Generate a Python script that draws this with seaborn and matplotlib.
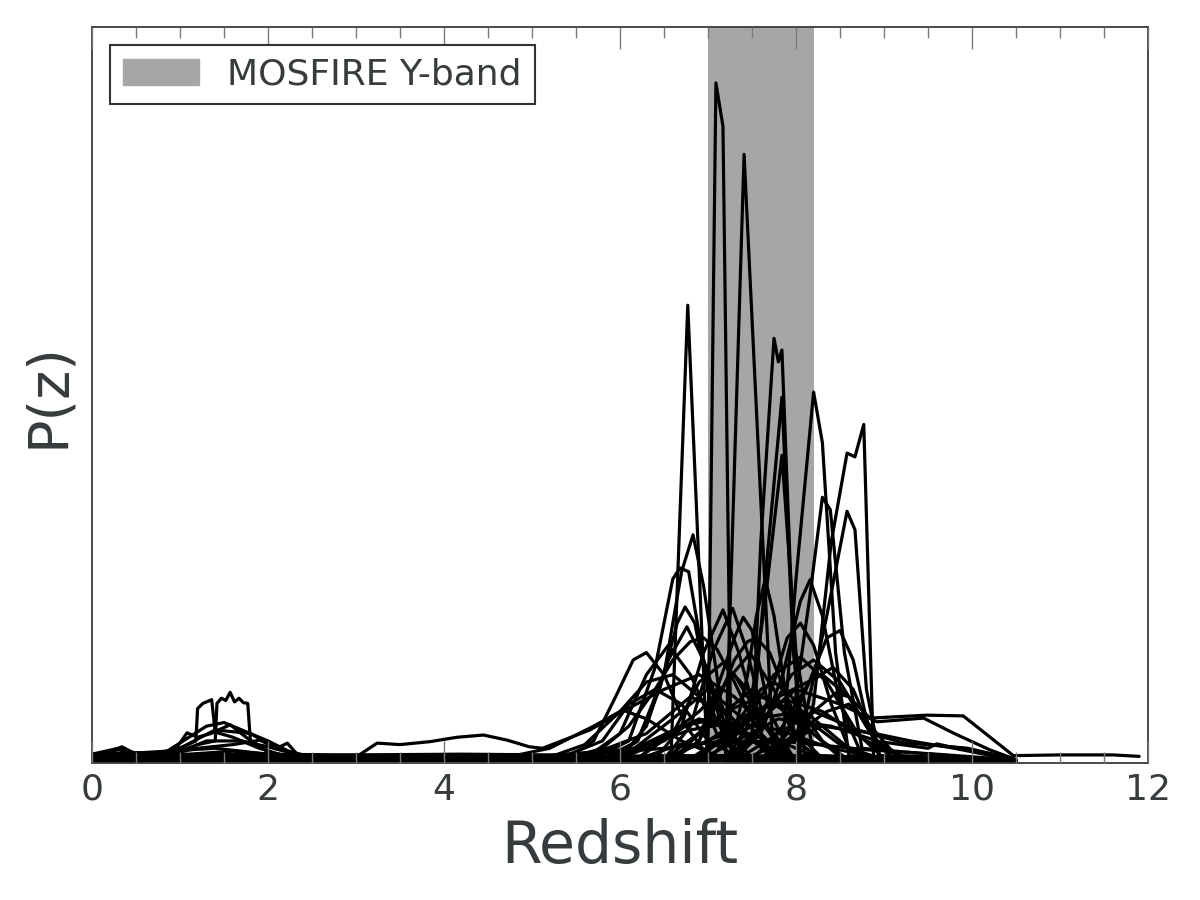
import matplotlib
matplotlib.use("Agg")
import matplotlib.pyplot as plt
import matplotlib.patches as mpatches
import seaborn as sns
import pandas as pd

# ---- data: P(z) curves (z, P) ----
c01 = [(0, .006), (2.0, .008), (5.0, .004), (6.9, .004), (7.0, .02), (7.09, .924), (7.17, .865), (7.26, .02), (7.4, .003), (10.5, .002)]
c02 = [(0, .004), (3.0, .005), (7.1, .004), (7.2, .01), (7.41, .827), (7.74, .01), (7.85, .003), (10.5, .002)]
c03 = [(0, .005), (1.2, .01), (2.0, .006), (6.4, .005), (6.58, .01), (6.77, .622), (6.99, .01), (7.2, .003), (10.5, .002)]
c04 = [(0, .004), (7.3, .004), (7.5, .03), (7.6, .3), (7.75, .577), (7.8, .545), (7.84, .561), (7.95, .22), (8.05, .01), (10.5, .002)]
c05 = [(0, .005), (7.3, .005), (7.5, .04), (7.65, .25), (7.84, .497), (7.97, .15), (8.1, .01), (10.5, .002)]
c06 = [(0, .003), (7.2, .005), (7.45, .05), (7.65, .22), (7.84, .418), (8.0, .15), (8.2, .01), (10.5, .002)]
c07 = [(0, .004), (7.6, .004), (7.85, .03), (8.0, .25), (8.2, .504), (8.3, .435), (8.45, .15), (8.6, .01), (10.5, .002)]
c08 = [(0, .003), (8.0, .005), (8.2, .08), (8.4, .3), (8.58, .421), (8.67, .416), (8.77, .46), (8.88, .01), (9.0, .003), (10.5, .002)]
c09 = [(0, .004), (7.8, .005), (8.1, .06), (8.35, .2), (8.58, .342), (8.67, .317), (8.8, .1), (8.95, .01), (10.5, .002)]
c10 = [(0, .005), (7.7, .005), (7.95, .05), (8.15, .22), (8.3, .361), (8.39, .344), (8.55, .15), (8.75, .02), (10.5, .002)]
c11 = [(0, .004), (5.8, .005), (6.2, .03), (6.5, .12), (6.7, .26), (6.83, .31), (6.95, .24), (7.15, .08), (7.4, .01), (10.5, .002)]
c12 = [(0, .006), (1.3, .012), (5.7, .006), (6.1, .03), (6.4, .13), (6.6, .25), (6.68, .265), (6.78, .26), (6.95, .14), (7.2, .03), (7.5, .004), (10.5, .002)]
c13 = [(0, .004), (5.9, .004), (6.2, .03), (6.45, .1), (6.65, .19), (6.74, .212), (6.85, .19), (7.05, .07), (7.3, .01), (10.5, .002)]
c14 = [(0, .003), (6.6, .005), (6.9, .03), (7.1, .1), (7.3, .17), (7.4, .198), (7.5, .18), (7.7, .07), (7.95, .01), (10.5, .002)]
c15 = [(0, .004), (7.3, .005), (7.6, .04), (7.85, .12), (8.05, .22), (8.16, .249), (8.3, .2), (8.5, .08), (8.75, .01), (10.5, .002)]
c16 = [(0, .005), (6.0, .006), (6.3, .05), (6.55, .14), (6.76, .185), (6.95, .14), (7.2, .05), (7.5, .006), (10.5, .002)]
c17 = [(0, .004), (6.4, .005), (6.7, .05), (6.95, .15), (7.17, .208), (7.35, .15), (7.6, .04), (7.9, .005), (10.5, .002)]
c18 = [(0, .003), (6.6, .005), (6.9, .04), (7.2, .11), (7.48, .149), (7.75, .1), (8.0, .03), (8.3, .004), (10.5, .002)]
c19 = [(0, .004), (7.0, .005), (7.4, .05), (7.75, .12), (8.05, .144), (8.35, .11), (8.7, .04), (9.0, .006), (10.5, .002)]
c20 = [(0, .005), (6.2, .006), (6.6, .04), (6.9, .11), (7.17, .136), (7.45, .1), (7.75, .03), (8.0, .004), (10.5, .002)]
c21 = [(0, .003), (7.2, .005), (7.6, .05), (7.95, .12), (8.2, .14), (8.5, .11), (8.85, .04), (9.1, .006), (10.5, .002)]
c22 = [(0, .004), (6.5, .005), (6.8, .05), (7.05, .15), (7.28, .21), (7.45, .15), (7.65, .05), (7.9, .005), (10.5, .002)]
c23 = [(0, .004), (7.5, .005), (7.85, .05), (8.15, .11), (8.42, .13), (8.65, .1), (8.9, .03), (9.1, .005), (10.5, .002)]
c24 = [(0, .005), (5.3, .006), (5.8, .03), (6.1, .08), (6.4, .1), (6.7, .08), (7.0, .03), (7.4, .005), (10.5, .002)]
c25 = [(0, .004), (4.6, .005), (5.2, .02), (5.7, .05), (6.03, .072), (6.3, .06), (6.7, .03), (7.2, .005), (10.5, .002)]
c26 = [(0, .008), (1.0, .01), (2.5, .006), (3.0, .008), (3.24, .027), (3.5, .025), (3.84, .029), (4.15, .035), (4.45, .038),
       (4.72, .031), (4.97, .022), (5.12, .02), (5.66, .045), (6.03, .07), (6.5, .1), (6.9, .12), (7.3, .09), (7.8, .03), (8.3, .005), (10.5, .002)]
c27 = [(0, .003), (6.9, .005), (7.3, .05), (7.6, .1), (7.75, .11), (7.95, .09), (8.3, .03), (8.6, .004), (10.5, .002)]
c28 = [(0, .005), (5.6, .006), (6.0, .04), (6.3, .12), (6.55, .16), (6.8, .12), (7.1, .04), (7.4, .005), (10.5, .002)]
c29 = [(0, .004), (6.2, .005), (6.8, .03), (7.2, .07), (7.6, .09), (8.0, .07), (8.5, .025), (9.0, .004), (10.5, .002)]
c30 = [(0, .004), (7.6, .006), (8.0, .04), (8.35, .07), (8.6, .08), (8.85, .05), (9.1, .015), (9.3, .003), (10.5, .002)]
c31 = [(0, .004), (6.0, .006), (6.5, .03), (6.8, .055), (7.0, .06), (7.3, .045), (7.7, .015), (8.1, .003), (10.5, .002)]
c32 = [(0, .004), (1.5, .008), (3.0, .004), (6.5, .006), (7.2, .04), (7.8, .09), (8.3, .12), (8.6, .09), (8.84, .061),
       (9.49, .065), (9.9, .064), (10.47, .01), (11.0, .011), (11.6, .011), (11.9, .009)]
c33 = [(0, .005), (6.8, .006), (7.5, .05), (8.0, .1), (8.5, .08), (8.92, .056), (9.45, .061), (9.8, .04), (10.2, .018), (10.47, .006), (10.5, .002)]
c34 = [(0, .004), (7.0, .01), (7.8, .06), (8.4, .05), (8.95, .029), (9.5, .02), (9.6, .026), (9.75, .022), (9.9, .02), (10.2, .012), (10.5, .004)]
c35 = [(0, .003), (7.4, .01), (8.2, .07), (8.7, .045), (9.2, .028), (9.95, .02), (10.5, .005)]
c36 = [(0, .008), (0.5, .006), (1.0, .02), (1.18, .03), (1.2, .074), (1.26, .081), (1.36, .086), (1.4, .042), (1.6, .035),
       (1.9, .02), (2.3, .006), (5.5, .004), (6.3, .04), (6.8, .09), (7.2, .07), (7.7, .01), (10.5, .002)]
c37 = [(0, .006), (0.8, .006), (1.2, .025), (1.4, .03), (1.42, .081), (1.47, .088), (1.52, .085), (1.57, .096), (1.62, .083),
       (1.67, .088), (1.72, .082), (1.77, .081), (1.8, .03), (2.1, .01), (2.6, .004), (6.5, .005), (7.0, .05), (7.5, .1),
       (8.0, .06), (8.5, .008), (10.5, .002)]
c38 = [(0, .005), (0.9, .01), (1.08, .041), (1.2, .035), (1.35, .04), (1.57, .052), (1.75, .035), (2.0, .015), (2.4, .005),
       (6.0, .005), (6.6, .06), (7.0, .1), (7.4, .06), (7.8, .006), (10.5, .002)]
c39 = [(0, .008), (0.2, .015), (0.34, .022), (0.5, .012), (0.7, .008), (1.2, .02), (1.6, .025), (1.91, .031), (2.1, .02),
       (2.22, .027), (2.33, .012), (2.6, .006), (6.8, .006), (7.5, .06), (8.1, .07), (8.6, .02), (9.0, .004), (10.5, .002)]
c40 = [(0, .01), (0.3, .018), (0.45, .014), (0.6, .006), (1.0, .015), (1.3, .03), (1.7, .03), (2.0, .022), (2.25, .014),
       (2.4, .004), (6.2, .006), (6.9, .07), (7.3, .12), (7.6, .06), (8.0, .005), (10.5, .002)]
c41 = [(0, .006), (5.4, .006), (5.8, .02), (6.1, .05), (6.4, .1), (6.6, .14), (6.8, .165), (6.95, .17), (7.1, .155), (7.3, .11),
       (7.5, .06), (7.7, .02), (7.9, .005), (10.5, .002)]
c42 = [(0, .005), (6.6, .006), (6.9, .03), (7.1, .08), (7.3, .14), (7.45, .165), (7.55, .17), (7.7, .15), (7.9, .09), (8.1, .03),
       (8.3, .006), (10.5, .002)]
c43 = [(0, .004), (7.3, .005), (7.55, .04), (7.75, .11), (7.9, .17), (8.05, .19), (8.2, .16), (8.4, .08), (8.6, .02), (8.8, .004), (10.5, .002)]
c44 = [(0, .006), (5.2, .008), (5.6, .025), (6.0, .07), (6.3, .11), (6.6, .12), (6.9, .09), (7.2, .04), (7.5, .008), (10.5, .002)]
c45 = [(0, .004), (7.6, .005), (7.9, .04), (8.15, .11), (8.35, .17), (8.5, .18), (8.65, .14), (8.8, .06), (8.95, .01), (10.5, .002)]
c46 = [(0, .007), (6.5, .007), (7.0, .03), (7.5, .07), (7.9, .085), (8.3, .07), (8.8, .03), (9.2, .008), (10.5, .003)]
c47 = [(0, .01), (1.4, .02), (2.0, .012), (5.0, .008), (6.2, .02), (6.8, .045), (7.3, .055), (7.8, .045), (8.4, .02), (9.0, .006), (10.5, .003)]
c48 = [(0, .004), (7.6, .006), (7.95, .03), (8.2, .07), (8.45, .095), (8.6, .09), (8.75, .06), (8.9, .03), (9.2, .01), (10.5, .003)]
c49 = [(0, .005), (5.4, .006), (5.7, .03), (5.95, .09), (6.15, .14), (6.3, .15), (6.5, .12), (6.75, .05), (7.0, .01), (10.5, .002)]
c50 = [(0, .004), (7.0, .005), (7.3, .04), (7.45, .12), (7.55, .2), (7.65, .25), (7.75, .2), (7.9, .08), (8.05, .01), (10.5, .002)]
c51 = [(0, .012), (0.3, .02), (0.6, .01), (1.0, .02), (1.4, .045), (1.8, .04), (2.1, .02), (2.5, .008), (4.0, .006), (6.0, .01),
       (6.7, .05), (7.1, .06), (7.5, .03), (8.0, .006), (10.5, .002)]
c52 = [(0, .009), (0.8, .012), (1.3, .05), (1.5, .055), (1.7, .045), (2.0, .03), (2.3, .012), (2.8, .005), (5.8, .005), (6.4, .03),
       (6.9, .06), (7.4, .04), (7.9, .006), (10.5, .002)]
c53 = [(0, .004), (7.5, .01), (8.3, .05), (8.9, .04), (9.3, .03), (9.8, .02), (10.3, .008), (10.5, .003)]
c54 = [(0, .012), (0.5, .014), (1.1, .012), (1.6, .016), (2.2, .01), (3.0, .011), (4.2, .012), (5.2, .011), (5.9, .014), (6.5, .02),
       (7.2, .03), (8.0, .028), (8.8, .018), (9.6, .012), (10.5, .004)]

curves = [c01, c02, c03, c04, c05, c06, c07, c08, c09, c10, c11, c12, c13, c14, c15, c16, c17, c18, c19, c20,
          c21, c22, c23, c24, c25, c26, c27, c28, c29, c30, c31, c32, c33, c34, c35, c36, c37, c38, c39, c40,
          c41, c42, c43, c44, c45, c46, c47, c48, c49, c50, c51, c52, c53, c54]

band_lo, band_hi = 7.0, 8.2
band_label = "MOSFIRE Y-band"
x_ticks = [0, 2, 4, 6, 8, 10, 12]

rows = []
for i, c in enumerate(curves):
    for order, (z, p) in enumerate(c):
        rows.append({"curve": i, "order": order, "z": z, "p": p})
df = pd.DataFrame(rows)

# ---- style ----
sns.set_theme(style="white")
text_col = "#363b3e"
plt.rcParams["font.family"] = ["DejaVu Sans"]
plt.rcParams["text.color"] = text_col
plt.rcParams["axes.labelcolor"] = text_col

fig = plt.figure(figsize=(12, 9), dpi=100)
ax = fig.add_axes([92 / 1200, 1 - 763 / 900, (1148 - 92) / 1200, (763 - 27) / 900])

ax.axvspan(band_lo, band_hi, color="#a6a6a6", lw=0, zorder=0)

sns.lineplot(data=df, x="z", y="p", units="curve", estimator=None, sort=False,
             color="black", lw=2.3, ax=ax, legend=False)

ax.set_xlim(0, 12)
ax.set_ylim(0, 1.0)
ax.set_xticks(x_ticks)
ax.set_xticks([v / 2 for v in range(0, 25)], minor=True)
ax.set_yticks([])
ax.tick_params(axis="x", which="major", direction="in", length=16, width=1.0, top=True, bottom=True,
               labelsize=26, pad=7, colors="#7a7a7a", labelcolor=text_col)
ax.tick_params(axis="x", which="minor", direction="in", length=8, width=1.0, top=True, bottom=True,
               colors="#7a7a7a")
ax.set_axisbelow(False)
for s in ax.spines.values():
    s.set_visible(True)
    s.set_color("#3a3a3a")
    s.set_linewidth(1.3)

ax.set_xlabel("Redshift", fontsize=42, labelpad=8)
ax.set_ylabel("P(z)", fontsize=40, labelpad=12)

handle = mpatches.Patch(color="#a6a6a6", label=band_label)
leg = ax.legend(handles=[handle], loc="upper left", fontsize=26, frameon=True, fancybox=False,
                handlelength=2.1, handleheight=0.75, handletextpad=0.8, borderaxespad=0.5, borderpad=0.35)
leg.get_frame().set_edgecolor("#333333")
leg.get_frame().set_linewidth(1.5)
leg.get_frame().set_facecolor("white")
leg.get_frame().set_alpha(1)

fig.savefig("out.png", dpi=100)
